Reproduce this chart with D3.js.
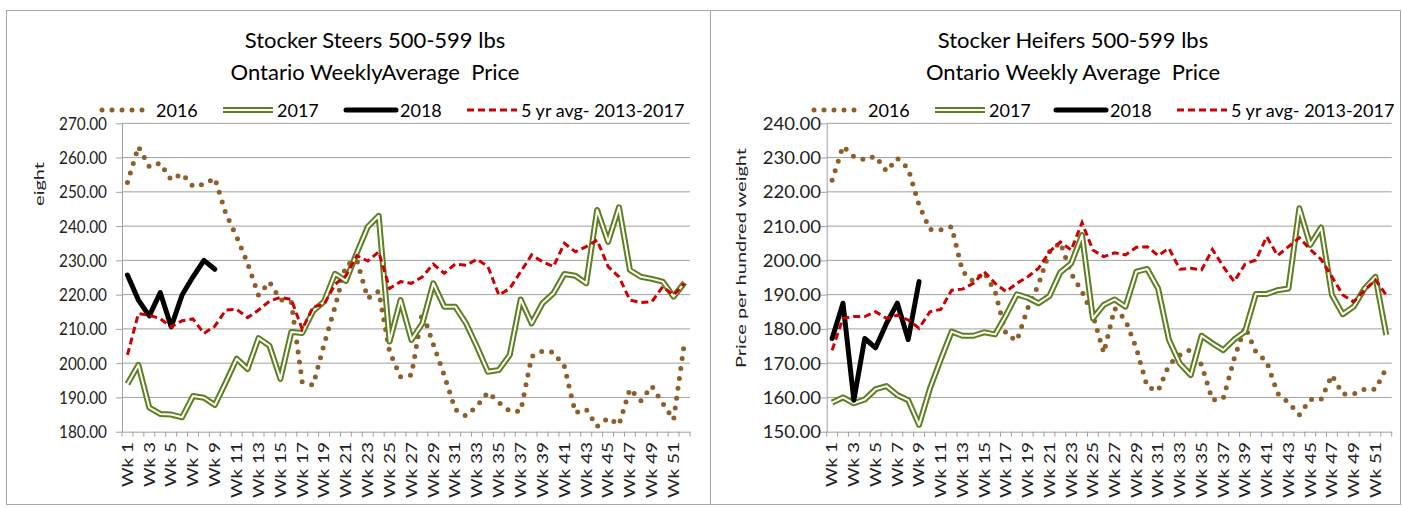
<!DOCTYPE html>
<html>
<head>
<meta charset="utf-8">
<script src="https://cdn.jsdelivr.net/npm/d3@7"></script>
<style>
  body { margin: 0; background: #fff; }
  svg { display: block; }
  text { font-family: Lato, "Liberation Sans", sans-serif; white-space: pre; }
</style>
</head>
<body>
<script>
// categories
const weeks = d3.range(1, 53).map(i => "Wk " + i);
const weekLabels = weeks.filter((d, i) => i % 2 === 0);
const seriesNames = ["2016", "2017", "2018", "5 yr avg- 2013-2017"];

// Stocker Steers 500-599 lbs
const steers2016 = [252.7, 263.2, 257.3, 258.4, 253.5, 255.3, 251.6, 252.2, 254.0, 243.7,
    236.9, 229.1, 219.8, 223.7, 218.5, 217.8, 194.5, 193.6, 205.5, 216.4,
    228.6, 230.1, 218.9, 221.0, 203.3, 196.0, 196.5, 215.0, 205.5, 196.5,
    186.5, 184.6, 187.5, 191.5, 188.5, 186.0, 186.0, 201.9, 203.5, 203.2,
    199.0, 185.5, 186.5, 181.5, 184.0, 182.0, 192.5, 189.0, 193.3, 188.3,
    183.5, 206.3];
const steers2017 = [193.9, 199.5, 187.0, 185.2, 185.0, 184.2, 190.4, 189.9, 187.8, 194.4,
    201.3, 198.3, 207.3, 205.1, 195.4, 209.1, 208.8, 215.2, 218.0, 226.1,
    224.0, 232.2, 239.8, 243.0, 206.3, 218.4, 206.8, 211.6, 223.3, 216.5,
    216.5, 211.6, 204.8, 197.5, 198.0, 202.4, 218.6, 211.6, 217.5, 220.4,
    226.0, 225.5, 223.3, 244.7, 235.4, 245.5, 227.2, 225.2, 224.6, 223.8,
    219.4, 223.5];
const steers2018 = [225.7, 218.4, 213.8, 220.6, 210.6, 219.9, 225.2, 230.0, 227.4];
const steersAvg = [202.4, 214.5, 214.0, 213.0, 210.6, 212.4, 212.9, 208.7, 210.8, 215.5,
    215.7, 213.3, 215.5, 218.1, 219.2, 218.6, 209.9, 216.4, 217.2, 223.0,
    225.5, 231.4, 229.8, 232.5, 221.8, 223.8, 223.3, 225.2, 228.9, 226.2,
    228.9, 228.6, 230.3, 228.2, 219.9, 221.8, 226.7, 231.6, 229.6, 228.2,
    235.0, 232.5, 234.0, 235.9, 228.2, 225.2, 218.4, 217.7, 217.9, 222.3,
    219.9, 223.3];
const steersTicks = [180, 190, 200, 210, 220, 230, 240, 250, 260, 270];

// Stocker Heifers 500-599 lbs
const heifers2016 = [223.4, 233.3, 230.3, 229.3, 230.4, 226.0, 229.8, 226.8, 216.1, 209.0,
    208.9, 209.8, 196.8, 193.8, 196.5, 190.9, 178.5, 176.5, 186.0, 193.0,
    202.5, 205.2, 196.2, 190.9, 184.0, 173.0, 186.0, 182.6, 174.3, 163.1,
    161.9, 169.5, 172.4, 174.0, 169.5, 159.2, 159.7, 171.3, 180.6, 173.3,
    170.4, 161.2, 158.5, 154.9, 159.4, 159.4, 166.5, 161.0, 161.0, 162.4,
    162.4, 168.5];
const heifers2017 = [158.5, 160.0, 158.3, 159.4, 162.4, 163.3, 160.7, 159.2, 152.0, 162.6,
    171.1, 179.2, 178.0, 178.0, 179.0, 178.4, 184.0, 190.1, 189.1, 187.5,
    189.6, 196.5, 199.1, 207.4, 183.1, 187.0, 188.6, 186.5, 196.7, 197.5,
    191.8, 176.8, 169.9, 166.5, 178.0, 175.8, 173.8, 176.9, 179.2, 190.2,
    190.2, 191.3, 191.8, 215.2, 204.5, 209.6, 189.9, 184.3, 186.5, 191.8,
    195.2, 178.2];
const heifers2018 = [177.2, 187.5, 159.2, 177.2, 174.5, 181.6, 187.5, 176.9, 193.8];
const heifersAvg = [173.8, 183.1, 183.6, 183.6, 185.0, 183.1, 184.0, 182.6, 180.2, 185.0,
    185.7, 191.3, 191.6, 193.3, 196.7, 193.3, 190.9, 193.3, 195.2, 197.7,
    202.5, 205.4, 203.0, 211.0, 203.0, 201.1, 202.2, 201.6, 203.8, 204.0,
    201.4, 203.5, 197.4, 197.7, 197.2, 203.2, 198.2, 193.8, 198.9, 200.1,
    206.9, 201.4, 204.0, 206.6, 203.2, 200.3, 195.2, 189.9, 187.9, 191.3,
    194.3, 189.9];
const heifersTicks = [150, 160, 170, 180, 190, 200, 210, 220, 230, 240];

const colors = { brown: "#8f5f2a", green: "#5e7f1f", red: "#cc0000", grid: "#a0a0a0" };

const svg = d3.select("body").append("svg")
    .attr("width", 1402)
    .attr("height", 508);

// chart frames
svg.append("rect")
    .attr("x", 6.5).attr("y", 10.5)
    .attr("width", 704).attr("height", 494)
    .attr("fill", "none").attr("stroke", "#a6a6a6");
svg.append("rect")
    .attr("x", 710.5).attr("y", 10.5)
    .attr("width", 690).attr("height", 494)
    .attr("fill", "none").attr("stroke", "#a6a6a6");

function styleSeries(g, k, d) {
    // draws one path in the style of series k
    if (k === 0) {
        g.append("path").attr("d", d)
            .attr("fill", "none").attr("stroke", colors.brown)
            .attr("stroke-width", 5).attr("stroke-linecap", "round")
            .attr("stroke-dasharray", "0 10");
    } else if (k === 1) {
        g.append("path").attr("d", d)
            .attr("fill", "none").attr("stroke", colors.green)
            .attr("stroke-width", 6).attr("stroke-linejoin", "round");
        g.append("path").attr("d", d)
            .attr("fill", "none").attr("stroke", "white")
            .attr("stroke-width", 2).attr("stroke-linejoin", "round");
    } else if (k === 2) {
        g.append("path").attr("d", d)
            .attr("fill", "none").attr("stroke", "black")
            .attr("stroke-width", 5).attr("stroke-linecap", "round")
            .attr("stroke-linejoin", "round");
    } else {
        g.append("path").attr("d", d)
            .attr("fill", "none").attr("stroke", colors.red)
            .attr("stroke-width", 3).attr("stroke-dasharray", "7 4");
    }
}

function addText(g, x, y, str, size, opts) {
    opts = opts || {};
    return g.append("text")
        .attr("transform", `translate(${x},${y}) scale(${opts.sx || 1},1)` + (opts.rot ? " rotate(-90)" : ""))
        .attr("text-anchor", opts.anchor || "start")
        .attr("dy", opts.dy || 0)
        .style("font-size", size + "px")
        .attr("fill", opts.fill || "#000")
        .text(str);
}

function drawChart(c) {
    const top = 123.3, bottom = 431.7;
    const g = svg.append("g");

    const x = d3.scaleBand()
        .domain(weeks)
        .range([c.left, c.right]);

    const y = d3.scaleLinear()
        .domain([c.ticks[0], c.ticks[c.ticks.length - 1]])
        .range([bottom, top]);

    // titles
    addText(g, c.titleX, 48, c.title[0], 22, { anchor: "middle" });
    addText(g, c.titleX, 80, c.title[1], 22, { anchor: "middle" });

    // gridlines
    g.selectAll(".grid")
        .data(c.ticks.slice(1))
        .enter().append("line")
        .attr("x1", c.left).attr("x2", c.right)
        .attr("y1", d => y(d)).attr("y2", d => y(d))
        .attr("stroke", colors.grid).attr("stroke-width", 1);

    // y axis
    const yAxis = g.append("g")
        .attr("transform", `translate(${c.left},0)`)
        .call(d3.axisLeft(y).tickValues(c.ticks).tickSize(6).tickSizeOuter(0).tickFormat(""));
    yAxis.selectAll("path, line").attr("stroke", colors.grid);

    c.ticks.forEach(t => {
        addText(g, c.labelRight, y(t), d3.format(".2f")(t), 18, { anchor: "end", dy: "0.36em", sx: c.tickSx, fill: "#222" });
    });

    // x axis
    const xAxis = g.append("g")
        .attr("transform", `translate(0,${bottom})`)
        .call(d3.axisBottom(x).tickValues([]).tickSizeOuter(0));
    xAxis.select("path").attr("stroke", colors.grid);

    g.selectAll(".xtick")
        .data(weeks.concat(["end"]))
        .enter().append("line")
        .attr("x1", d => d === "end" ? c.right : x(d))
        .attr("x2", d => d === "end" ? c.right : x(d))
        .attr("y1", bottom).attr("y2", bottom + 5)
        .attr("stroke", colors.grid);

    weekLabels.forEach(w => {
        addText(g, x(w) + x.bandwidth() / 2, 442, w, 19, { anchor: "end", dy: "0.36em", rot: true, sx: 0.78, fill: "#222" });
    });

    // y axis title (the left one is partly hidden in the original)
    let tg = g;
    if (c.clipTitle) {
        svg.append("clipPath").attr("id", "clipT")
            .append("rect").attr("x", 0).attr("y", 0).attr("width", 100).attr("height", c.clipTitle);
        tg = g.append("g").attr("clip-path", "url(#clipT)");
    }
    addText(tg, c.yTitleX, c.yTitleY, "Price per hundred weight", 20, { anchor: "middle", rot: true, sx: 0.62, fill: "#222" });

    // series
    const line = d3.line()
        .x((d, i) => x(weeks[i]) + x.bandwidth() / 2)
        .y(d => y(d));

    c.series.forEach((s, k) => styleSeries(g, k, line(s)));

    // legend
    const ly = 110;
    seriesNames.forEach((name, k) => {
        const lx = c.legendX[k];
        styleSeries(g, k, d3.line()([[lx, ly], [lx + 50, ly]]));
        addText(g, lx + 54, ly + 7, name, 18);
    });
}

drawChart({
    left: 122, right: 690,
    ticks: steersTicks,
    series: [steers2016, steers2017, steers2018, steersAvg],
    title: ["Stocker Steers 500-599 lbs", "Ontario WeeklyAverage  Price"],
    titleX: 375,
    labelRight: 107, tickSx: 0.85,
    legendX: [102, 223, 346, 467],
    yTitleX: 44, yTitleY: 272, clipTitle: 206
});

drawChart({
    left: 826.7, right: 1391.7,
    ticks: heifersTicks,
    series: [heifers2016, heifers2017, heifers2018, heifersAvg],
    title: ["Stocker Heifers 500-599 lbs", "Ontario Weekly Average  Price"],
    titleX: 1073,
    labelRight: 821, tickSx: 1.03,
    legendX: [814, 935, 1056, 1177],
    yTitleX: 746, yTitleY: 258
});
</script>
</body>
</html>
